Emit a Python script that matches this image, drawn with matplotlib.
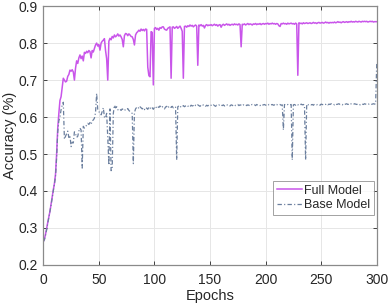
import numpy as np
import matplotlib
matplotlib.use('Agg')
import matplotlib.pyplot as plt

# accuracy per epoch (epochs 0..300)
full_model = [
    0.263, 0.270, 0.283, 0.298, 0.315, 0.330, 0.345, 0.365, 0.385, 0.403,
    0.420, 0.445, 0.500, 0.570, 0.610, 0.645, 0.655, 0.680, 0.705, 0.700,
    0.695, 0.697, 0.710, 0.715, 0.727, 0.724, 0.728, 0.722, 0.700, 0.732,
    0.752, 0.745, 0.760, 0.768, 0.758, 0.765, 0.752, 0.775, 0.772, 0.778,
    0.774, 0.780, 0.777, 0.760, 0.780, 0.776, 0.786, 0.795, 0.800, 0.792,
    0.796, 0.781, 0.800, 0.805, 0.808, 0.812, 0.780, 0.758, 0.700, 0.805,
    0.813, 0.809, 0.818, 0.814, 0.822, 0.817, 0.820, 0.825, 0.819, 0.822,
    0.817, 0.810, 0.790, 0.820, 0.826, 0.825, 0.820, 0.825, 0.822, 0.818,
    0.817, 0.810, 0.795, 0.822, 0.828, 0.831, 0.835, 0.832, 0.838, 0.834,
    0.837, 0.833, 0.838, 0.837, 0.735, 0.712, 0.709, 0.831, 0.829, 0.687,
    0.840, 0.842, 0.837, 0.840, 0.835, 0.842, 0.840, 0.844, 0.844, 0.838,
    0.836, 0.835, 0.840, 0.842, 0.844, 0.705, 0.843, 0.844, 0.840, 0.842,
    0.845, 0.840, 0.843, 0.846, 0.840, 0.832, 0.705, 0.845, 0.846, 0.843,
    0.847, 0.845, 0.849, 0.846, 0.848, 0.844, 0.847, 0.849, 0.846, 0.740,
    0.849, 0.847, 0.850, 0.846, 0.848, 0.841, 0.848, 0.850, 0.847, 0.849,
    0.848, 0.850, 0.847, 0.849, 0.851, 0.848, 0.850, 0.846, 0.849, 0.850,
    0.843, 0.849, 0.851, 0.848, 0.850, 0.852, 0.849, 0.851, 0.848, 0.850,
    0.851, 0.849, 0.852, 0.850, 0.851, 0.849, 0.852, 0.850, 0.790, 0.851,
    0.850, 0.852, 0.849, 0.851, 0.853, 0.850, 0.852, 0.851, 0.849, 0.852,
    0.851, 0.853, 0.850, 0.852, 0.851, 0.853, 0.850, 0.852, 0.853, 0.851,
    0.853, 0.852, 0.854, 0.851, 0.853, 0.852, 0.854, 0.852, 0.853, 0.851,
    0.853, 0.852, 0.847, 0.845, 0.853, 0.852, 0.854, 0.852, 0.853, 0.851,
    0.854, 0.852, 0.853, 0.854, 0.852, 0.853, 0.851, 0.854, 0.852, 0.713,
    0.855, 0.853, 0.854, 0.852, 0.855, 0.853, 0.854, 0.855, 0.853, 0.854,
    0.855, 0.853, 0.854, 0.856, 0.854, 0.855, 0.853, 0.855, 0.856, 0.854,
    0.855, 0.856, 0.854, 0.855, 0.857, 0.855, 0.856, 0.854, 0.856, 0.855,
    0.856, 0.855, 0.857, 0.855, 0.856, 0.858, 0.856, 0.857, 0.855, 0.857,
    0.858, 0.856, 0.857, 0.858, 0.856, 0.858, 0.857, 0.859, 0.857, 0.858,
    0.857, 0.859, 0.858, 0.857, 0.859, 0.858, 0.857, 0.859, 0.858, 0.859,
    0.858, 0.859, 0.857, 0.858, 0.859, 0.858, 0.859, 0.857, 0.858, 0.858,
    0.858,
]

base_model = [
    0.263, 0.268, 0.280, 0.295, 0.312, 0.328, 0.345, 0.362, 0.382, 0.400,
    0.418, 0.440, 0.490, 0.560, 0.590, 0.600, 0.620, 0.632, 0.640, 0.540,
    0.548, 0.555, 0.562, 0.545, 0.550, 0.520, 0.532, 0.530, 0.560, 0.555,
    0.545, 0.548, 0.562, 0.570, 0.565, 0.462, 0.575, 0.570, 0.574, 0.578,
    0.583, 0.580, 0.585, 0.580, 0.590, 0.592, 0.597, 0.612, 0.664, 0.620,
    0.615, 0.610, 0.606, 0.615, 0.625, 0.600, 0.597, 0.610, 0.545, 0.470,
    0.622, 0.455, 0.460, 0.610, 0.632, 0.625, 0.628, 0.620, 0.618, 0.621,
    0.618, 0.622, 0.620, 0.617, 0.621, 0.620, 0.623, 0.618, 0.615, 0.612,
    0.610, 0.474, 0.612, 0.622, 0.626, 0.628, 0.623, 0.628, 0.625, 0.622,
    0.625, 0.620, 0.626, 0.624, 0.621, 0.627, 0.623, 0.628, 0.625, 0.621,
    0.626, 0.629, 0.624, 0.628, 0.626, 0.630, 0.625, 0.628, 0.626, 0.622,
    0.627, 0.629, 0.624, 0.628, 0.630, 0.626, 0.629, 0.625, 0.628, 0.627,
    0.484, 0.628, 0.630, 0.626, 0.629, 0.627, 0.631, 0.628, 0.630, 0.632,
    0.629, 0.631, 0.628, 0.632, 0.630, 0.631, 0.628, 0.632, 0.630, 0.633,
    0.631, 0.629, 0.632, 0.630, 0.633, 0.631, 0.629, 0.632, 0.630, 0.633,
    0.631, 0.632, 0.630, 0.633, 0.631, 0.629, 0.632, 0.631, 0.633, 0.630,
    0.632, 0.631, 0.633, 0.630, 0.632, 0.634, 0.631, 0.632, 0.630, 0.633,
    0.632, 0.630, 0.633, 0.631, 0.632, 0.634, 0.631, 0.633, 0.632, 0.630,
    0.633, 0.632, 0.634, 0.631, 0.633, 0.632, 0.630, 0.633, 0.634, 0.632,
    0.633, 0.631, 0.634, 0.632, 0.633, 0.631, 0.634, 0.632, 0.633, 0.634,
    0.632, 0.633, 0.631, 0.634, 0.632, 0.633, 0.634, 0.632, 0.633, 0.631,
    0.634, 0.632, 0.633, 0.634, 0.632, 0.633, 0.565, 0.634, 0.632, 0.633,
    0.634, 0.632, 0.633, 0.634, 0.484, 0.633, 0.634, 0.632, 0.635, 0.633,
    0.634, 0.632, 0.635, 0.633, 0.634, 0.632, 0.484, 0.635, 0.633, 0.634,
    0.635, 0.633, 0.634, 0.632, 0.635, 0.634, 0.633, 0.635, 0.634, 0.632,
    0.635, 0.634, 0.633, 0.635, 0.634, 0.636, 0.633, 0.635, 0.634, 0.636,
    0.634, 0.635, 0.633, 0.636, 0.634, 0.635, 0.636, 0.634, 0.635, 0.633,
    0.636, 0.634, 0.635, 0.636, 0.634, 0.635, 0.633, 0.636, 0.635, 0.634,
    0.636, 0.635, 0.634, 0.636, 0.635, 0.633, 0.636, 0.635, 0.634, 0.636,
    0.635, 0.634, 0.636, 0.635, 0.636, 0.634, 0.635, 0.636, 0.635, 0.636,
    0.745,
]

epochs = np.arange(len(full_model))

x_ticks = [0, 50, 100, 150, 200, 250, 300]
y_ticks = [0.2, 0.3, 0.4, 0.5, 0.6, 0.7, 0.8, 0.9]

plt.rcParams['font.family'] = ['Liberation Sans', 'DejaVu Sans']
txt = '#262626'

fig = plt.figure(figsize=(3.9, 3.07), dpi=100)
ax = fig.add_axes([0.111, 0.137, 0.855, 0.843])

ax.plot(epochs, full_model, color='#c955ea', lw=1.1, label='Full Model')
ax.plot(epochs, base_model, color='#6b7f9e', lw=0.9, dashes=(3.5, 1.8, 0.9, 1.8),
        label='Base Model')

ax.set_xlim(0, 300)
ax.set_ylim(0.2, 0.9)
ax.set_xticks(x_ticks)
ax.set_yticks(y_ticks)
ax.set_yticklabels(['%g' % v for v in y_ticks])
ax.grid(True, color='#e6e6e6', lw=0.7)
ax.set_axisbelow(True)
ax.tick_params(direction='in', top=True, right=True, length=3, width=0.6,
               colors=txt, labelsize=10)
ax.tick_params(axis='x', pad=6)
ax.tick_params(axis='y', pad=4)
for s in ax.spines.values():
    s.set_color('#8a8a8a')
    s.set_linewidth(0.9)

ax.set_xlabel('Epochs', fontsize=10.5, color=txt, labelpad=1)
ax.set_ylabel('Accuracy (%)', fontsize=10.5, color=txt, labelpad=1)

leg = ax.legend(loc='lower right', bbox_to_anchor=(0.992, 0.193), fontsize=9,
                frameon=True, fancybox=False, handlelength=2.0, borderpad=0.3,
                labelspacing=0.2, handletextpad=0.2, borderaxespad=0)
leg.get_frame().set_edgecolor('#8a8a8a')
leg.get_frame().set_linewidth(0.7)
for t in leg.get_texts():
    t.set_color(txt)

fig.savefig('out.png', dpi=100)
